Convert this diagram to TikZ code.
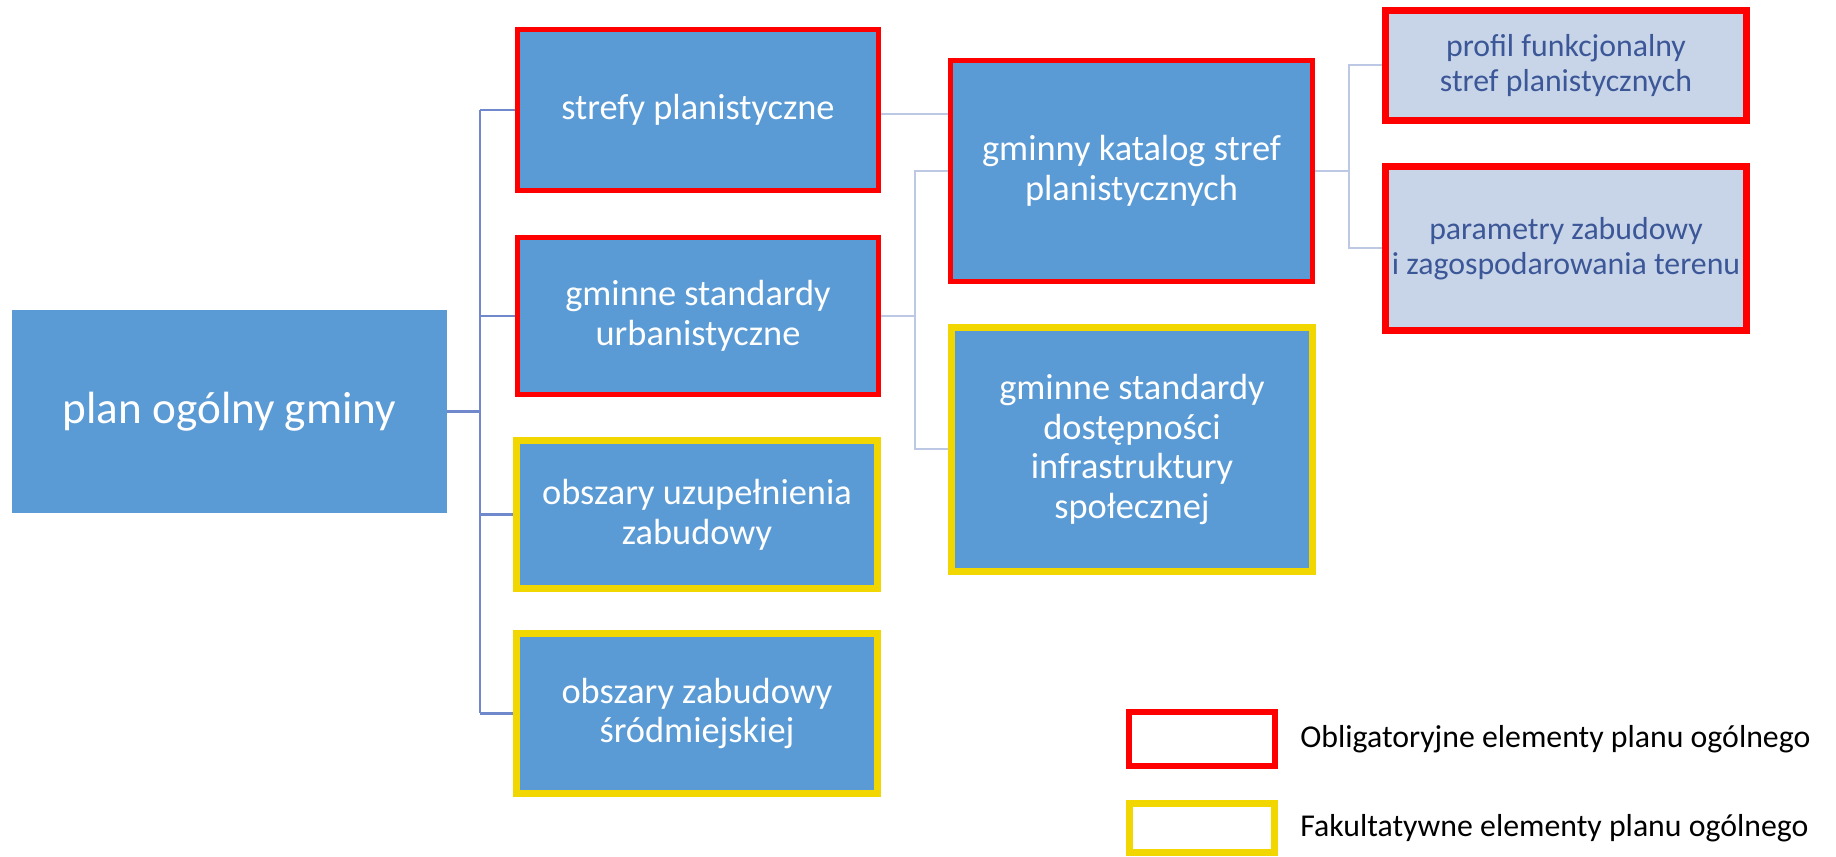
\documentclass[tikz,border=0pt]{standalone}
\usepackage{fontspec}
\setmainfont{Carlito}
\usetikzlibrary{positioning,backgrounds}
\definecolor{boxblue}{HTML}{5B9BD5}
\definecolor{oblred}{HTML}{FF0000}
\definecolor{fakyellow}{HTML}{F2D600}
\definecolor{lightfill}{HTML}{C8D4E8}
\definecolor{darktext}{HTML}{3B5797}
\definecolor{linedark}{HTML}{7088CC}
\definecolor{linelight}{HTML}{BCC8E4}

\begin{document}
\begin{tikzpicture}[x=0.02cm,y=-0.02cm,
    box/.style={fill=boxblue,text=white,align=center,inner sep=0pt,font=\fontsize{20.7pt}{22.7pt}\selectfont},
    subbox/.style={fill=lightfill,text=darktext,align=center,inner sep=0pt,font=\fontsize{18.1pt}{19.8pt}\selectfont},
    obl/.style={draw=oblred,line width=0.1cm},
    fak/.style={draw=fakyellow,line width=0.14cm},
    legtext/.style={inner sep=0pt,font=\fontsize{18.1pt}{20pt}\selectfont},
    mainline/.style={draw=linedark,line width=0.055cm},
    subline/.style={draw=linelight,line width=0.04cm}]
                      \useasboundingbox (0,0) rectangle (1836,857);
                      \node[box,minimum width=8.70cm,minimum height=4.06cm,font=\fontsize{25.7pt}{28pt}\selectfont] (plan) at (229.5,411.5) {plan ogólny gminy};
                      \node[box,obl,minimum width=7.22cm,minimum height=3.22cm] (strefy) at (698,110) {strefy planistyczne};
                      \node[box,obl,minimum width=7.22cm,minimum height=3.14cm] (urban) at (698,316) {gminne standardy\\urbanistyczne};
                      \node[box,fak,minimum width=7.22cm,minimum height=2.96cm] (uzup) at (697,514.5) {obszary uzupełnienia\\zabudowy};
                      \node[box,fak,minimum width=7.22cm,minimum height=3.20cm] (srodm) at (697,713.5) {obszary zabudowy\\śródmiejskiej};
                      \node[box,obl,minimum width=7.24cm,minimum height=4.42cm] (katalog) at (1131.5,171) {gminny katalog stref\\planistycznych};
                      \node[box,fak,minimum width=7.22cm,minimum height=4.88cm] (dostep) at (1132,449.5) {gminne standardy\\dostępności\\infrastruktury\\społecznej};
                      \node[subbox,obl,line width=0.14cm,minimum width=7.22cm,minimum height=2.20cm] (profil) at (1566,65.5) {profil funkcjonalny\\stref planistycznych};
                      \node[subbox,obl,line width=0.14cm,minimum width=7.22cm,minimum height=3.28cm] (param) at (1566,248.5) {parametry zabudowy\\i zagospodarowania terenu};
                      % legenda
                      \node[obl,line width=0.12cm,minimum width=2.92cm,minimum height=1.08cm,inner sep=0pt] (legobl) at (1202,739) {};
                      \node[fak,minimum width=2.90cm,minimum height=0.98cm,inner sep=0pt] (legfak) at (1202,828) {};
                      \node[legtext,right=0.44cm of legobl] (txtobl) {Obligatoryjne elementy planu ogólnego};
                      \node[legtext,right=0.44cm of legfak] (txtfak) {Fakultatywne elementy planu ogólnego};
                      % polaczenia
                      \coordinate (trunk) at (480,411.5);
                      \coordinate (fork) at (915,316);
                      \coordinate (split) at (1348.5,171);
                      \begin{scope}[on background layer]
                      \draw[mainline] (plan.east) -- (trunk);
                      \draw[mainline] (trunk |- strefy.west) -- (trunk |- srodm.west);
                      \foreach \n in {strefy,urban,uzup,srodm}
                      \draw[mainline] (trunk |- \n.west) -- (\n.west);
                      \draw[subline] ([yshift=-0.08cm]strefy.east) -- ([yshift=-0.08cm]strefy.east -| katalog.west);
                      \draw[subline] (urban.east) -- (fork);
                      \draw[subline] (fork) |- (katalog.west);
                      \draw[subline] (fork) |- (dostep.west);
                      \draw[subline] (katalog.east) -- (split);
                      \draw[subline] (split) |- (profil.west);
                      \draw[subline] (split) |- (param.west);
                      \end{scope}
                  \end{tikzpicture}
\end{document}
